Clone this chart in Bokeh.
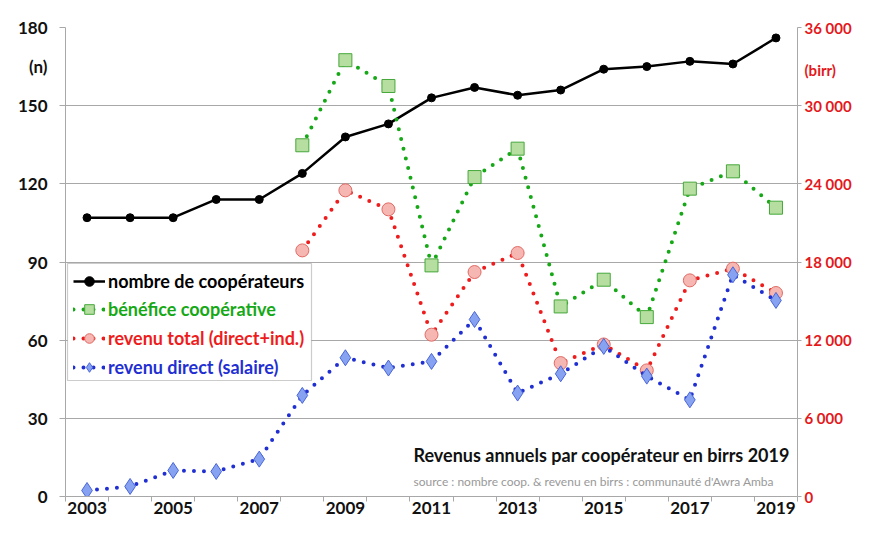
from bokeh.plotting import figure
from bokeh.models import (Range1d, LinearAxis, FixedTicker, Legend, LegendItem,
                          Label, BoxAnnotation)
from bokeh.embed import file_html
from bokeh.resources import INLINE

# ---------------- data ----------------
years = list(range(2003, 2020))
cooperateurs = [107, 107, 107, 114, 114, 124, 138, 143, 153, 157, 154, 156, 164, 165, 167, 166, 176]

years_2008 = list(range(2008, 2020))
benefice = [26960, 33490, 31510, 17740, 24520, 26700, 14590, 16640, 13770, 23630, 24960, 22170]
revenu_total = [18890, 23500, 22040, 12420, 17230, 18690, 10240, 11670, 9680, 16590, 17490, 15620]
revenu_direct = [460, 770, 2000, 1920, 2870, 7760, 10650, 9860, 10370, 13590, 7940, 9420,
                 11520, 9240, 7420, 17020, 15050]

left_ticks = [0, 30, 60, 90, 120, 150, 180]
left_unit_pos, left_unit = 165, "(n)"
right_ticks = [0, 6000, 12000, 18000, 24000, 30000, 36000]
right_labels = ["0", "6 000", "12 000", "18 000", "24 000", "30 000", "36 000"]
right_unit_pos, right_unit = 32700, "(birr)"
x_label_years = [2003, 2005, 2007, 2009, 2011, 2013, 2015, 2017, 2019]
x_boundaries = [y + 0.5 for y in range(2002, 2020)]

legend_labels = ["nombre de coopérateurs", "bénéfice coopérative",
                 "revenu total (direct+ind.)", "revenu direct (salaire)"]
title_text = "Revenus annuels par coopérateur en birrs 2019"
source_text = "source : nombre coop. & revenu en birrs : communauté d'Awra Amba"

FONT = "Lato"
GRID = "#a8a8a8"
BLACK = "#000000"
GREEN = "#16a816"
RED = "#ee1c1c"
BLUE = "#1f2fd2"
AXRED = "#e3191c"
TXT = "#111111"

p = figure(width=854, height=520,
           x_range=Range1d(2002.5, 2019.5), y_range=Range1d(0, 180),
           output_backend="svg", toolbar_location=None,
           min_border_left=65, min_border_right=50, min_border_top=27, min_border_bottom=24)
p.outline_line_color = None
p.background_fill_color = "white"
p.border_fill_color = "white"

p.extra_y_ranges = {"birr": Range1d(0, 36000)}

# x axis
p.xaxis.ticker = FixedTicker(ticks=x_label_years, minor_ticks=x_boundaries)
p.xaxis.axis_line_color = GRID
p.xaxis.major_tick_line_color = None
p.xaxis.major_tick_out = 0
p.xaxis.major_tick_in = 0
p.xaxis.minor_tick_line_color = GRID
p.xaxis.minor_tick_out = 5
p.xaxis.minor_tick_in = 0
p.xaxis.major_label_standoff = 0
p.xaxis.major_label_text_font = FONT
p.xaxis.major_label_text_font_style = "bold"
p.xaxis.major_label_text_font_size = "17px"
p.xaxis.major_label_text_color = TXT

# left axis (unit label "(n)" carried as an extra labelled tick)
p.yaxis.ticker = FixedTicker(ticks=left_ticks + [left_unit_pos], minor_ticks=left_ticks)
p.yaxis.major_label_overrides = {left_unit_pos: left_unit}
p.yaxis.axis_line_color = GRID
p.yaxis.major_tick_line_color = None
p.yaxis.major_tick_out = 0
p.yaxis.major_tick_in = 0
p.yaxis.minor_tick_line_color = GRID
p.yaxis.minor_tick_out = 6
p.yaxis.minor_tick_in = 0
p.yaxis.major_label_standoff = 12
p.yaxis.major_label_text_font = FONT
p.yaxis.major_label_text_font_style = "bold"
p.yaxis.major_label_text_font_size = "17px"
p.yaxis.major_label_text_color = TXT

p.xgrid.grid_line_color = None
p.ygrid.grid_line_color = GRID
p.ygrid.ticker = FixedTicker(ticks=left_ticks)

# right axis
r_over = {t: l for t, l in zip(right_ticks, right_labels)}
r_over[right_unit_pos] = right_unit
raxis = LinearAxis(y_range_name="birr",
                   ticker=FixedTicker(ticks=right_ticks + [right_unit_pos], minor_ticks=right_ticks),
                   major_label_overrides=r_over)
raxis.axis_line_color = GRID
raxis.major_tick_line_color = None
raxis.major_tick_out = 0
raxis.major_tick_in = 0
raxis.minor_tick_line_color = GRID
raxis.minor_tick_out = 4
raxis.minor_tick_in = 0
raxis.major_label_standoff = 3
raxis.major_label_text_font = FONT
raxis.major_label_text_font_style = "bold"
raxis.major_label_text_font_size = "15px"
raxis.major_label_text_color = AXRED
p.add_layout(raxis, "right")

# series
l_black = p.line(years, cooperateurs, line_color=BLACK, line_width=2.5)
m_black = p.scatter(years, cooperateurs, marker="circle", size=8,
                    fill_color=BLACK, line_color=BLACK)

l_green = p.line(years_2008, benefice, y_range_name="birr", line_color=GREEN,
                 line_width=4, line_dash="0 10", line_cap="round")
m_green = p.scatter(years_2008, benefice, y_range_name="birr", marker="square", size=13,
                    fill_color="#b6dea0", line_color="#45a83a", line_width=1)

l_red = p.line(years_2008, revenu_total, y_range_name="birr", line_color=RED,
               line_width=4, line_dash="0 10", line_cap="round")
m_red = p.scatter(years_2008, revenu_total, y_range_name="birr", marker="circle", size=13,
                  fill_color="#f6b7b3", line_color="#e26a64", line_width=1)

l_blue = p.line(years, revenu_direct, y_range_name="birr", line_color=BLUE,
                line_width=4, line_dash="0 10", line_cap="round")
m_blue = p.scatter(years, revenu_direct, y_range_name="birr", marker="diamond", size=16,
                   fill_color="#86a2f0", line_color="#4a66d8", line_width=1)

# legend frame
p.add_layout(BoxAnnotation(left=2, right=246, bottom=116, top=233,
                           left_units="screen", right_units="screen",
                           bottom_units="screen", top_units="screen",
                           fill_color="white", fill_alpha=1,
                           line_color="#555555", line_width=1.2))

legend_colors = [BLACK, GREEN, RED, BLUE]
legend_rends = [[l_black, m_black], [l_green, m_green], [l_red, m_red], [l_blue, m_blue]]
legend_centers = [215, 187, 158, 129]
for lab, col, rends, cy in zip(legend_labels, legend_colors, legend_rends, legend_centers):
    lg = Legend(items=[LegendItem(label=lab, renderers=rends)],
                location=(8, cy - 12), orientation="vertical",
                padding=0, margin=0, spacing=0,
                glyph_width=32, glyph_height=24, label_height=24,
                label_standoff=3,
                border_line_color=None, background_fill_alpha=0,
                label_text_font=FONT, label_text_font_style="bold",
                label_text_font_size="18px", label_text_color=col)
    p.add_layout(lg, "center")

# texts inside the plot area
p.add_layout(Label(x=348, y=42, x_units="screen", y_units="screen", text=title_text,
                   text_align="left", text_baseline="middle",
                   text_font=FONT, text_font_style="bold",
                   text_font_size="18px", text_color=TXT))
p.add_layout(Label(x=348, y=15, x_units="screen", y_units="screen", text=source_text,
                   text_align="left", text_baseline="middle",
                   text_font=FONT, text_font_size="12px", text_color="#999999"))

open("out.html", "w").write(file_html(p, INLINE))
